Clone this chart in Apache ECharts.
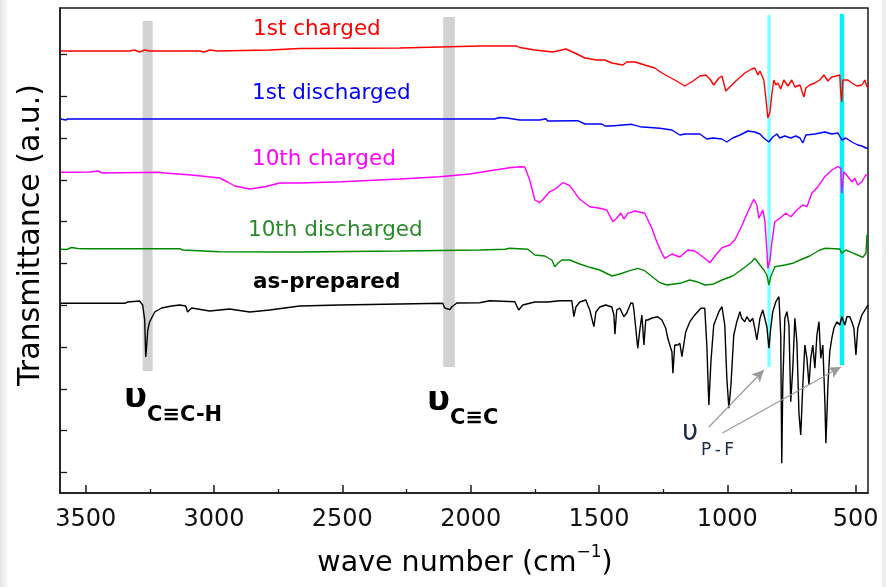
<!DOCTYPE html>
<html>
<head>
<meta charset="utf-8">
<script src="https://cdn.jsdelivr.net/npm/echarts@6/dist/echarts.min.js"></script>
<style>
  html, body { margin: 0; padding: 0; background: #fff; }
  #chart { width: 886px; height: 587px; }
</style>
</head>
<body>
<div id="chart"></div>
<script>
// FTIR spectra, wavenumber (cm-1) vs. offset transmittance (a.u.)
const wavenumberTicks = [3500, 3000, 2500, 2000, 1500, 1000, 500];
const wavenumberMinorTicks = [3250, 2750, 2250, 1750, 1250, 750];
const transmittanceTicks = [20.5, 62.3, 104.1, 145.9, 187.7, 229.5, 271.3, 313.1, 354.9, 396.7, 438.5];

const seriesNames = ['1st charged', '1st discharged', '10th charged', '10th discharged', 'as-prepared'];

const firstCharged = [[3597,442],[3329,442],[3309,443],[3290,441],[3270,443],[3251,442],[3056,442],[3037,441],[3017,443],[2986,442],[2783,443],[2666,444.5],[2276,445],[2120,446],[1965,447],[1820,447],[1809,445.5],[1750,443],[1680,441],[1629,444],[1594,440],[1555,435],[1509,433],[1477,433],[1450,430],[1407,428],[1392,431],[1360,431],[1322,428],[1283,425],[1255,420],[1205,413],[1185,410],[1166,407],[1134,412],[1107,417],[1084,418],[1068,414],[1053,408],[1033,415],[1021,417],[1006,402],[971,411],[932,420],[905,424],[893,425],[881,418],[873,422],[866,423],[858,413],[850,395],[842,375],[834,381],[827,398],[819,413],[811,408],[803,410],[792,404],[780,413],[764,407],[749,413],[737,406],[717,408],[702,396],[694,405],[679,408],[659,410],[640,413],[624,418],[608,412],[593,416],[577,417],[562,418],[558,400],[554,391],[550,413],[530,413],[515,410],[495,407],[476,408],[464,413],[456,406],[452,408]];

const firstDischarged = [[3597,374],[3590,375],[3578,373],[3570,374],[2666,374],[1906,374],[1887,375.5],[1859,375],[1809,373],[1731,373],[1707,374.3],[1700,372],[1583,372.3],[1555,369],[1489,369],[1477,367],[1454,367],[1450,368],[1372,368.7],[1341,366.3],[1263,364.7],[1216,363],[1185,358],[1166,359],[1107,359],[1080,354],[1057,355],[1021,354],[1002,351],[979,355],[951,358],[920,362],[893,361],[873,359],[858,355],[838,351],[823,356],[807,359],[796,355],[776,357],[753,355],[733,357],[717,355],[706,350],[694,358],[659,359],[620,361],[593,359],[569,360],[554,353],[538,355],[515,351],[492,348],[476,347],[460,345],[452,345]];

const tenthCharged = [[3597,320.7],[3484,321],[3453,322],[3434,320],[3212,320.7],[3192,320],[3087,318],[2978,315],[2947,311],[2919,307],[2861,304],[2802,306.3],[2744,310],[2666,310],[2502,311.3],[2276,314],[2120,316.3],[2004,319],[1906,323],[1848,325.3],[1809,326.3],[1789,326],[1770,313],[1758,301],[1750,293],[1731,290.3],[1711,295.7],[1692,301.3],[1672,303.7],[1641,310.3],[1614,307.3],[1575,293.7],[1536,286.3],[1497,284.7],[1470,283],[1446,271.3],[1431,274.7],[1415,280],[1403,274],[1388,279.7],[1360,282],[1322,279.7],[1294,264.7],[1275,251.3],[1255,239.7],[1244,234.7],[1216,239],[1185,236],[1154,243],[1127,242],[1088,234.7],[1068,230.3],[1045,238],[1021,245.3],[990,248],[971,253],[944,267],[920,281.3],[897,293.7],[885,288],[877,274.7],[862,283],[854,273],[846,243],[842,224.7],[834,233],[827,249.7],[815,271.3],[796,274.7],[772,279.7],[753,276.3],[729,283],[706,288],[690,286.3],[671,299.7],[647,306.3],[620,316.3],[593,323],[569,326.3],[558,324.7],[554,299.7],[546,321.3],[530,316.3],[515,311.3],[503,314.7],[492,308],[476,311.3],[460,318],[452,318]];

const tenthDischarged = [[3597,243.7],[3590,245],[3574,243.5],[3555,245.5],[3531,244.5],[3504,244.3],[3134,244.3],[3122,243],[2978,241.3],[2666,241],[2276,242],[1965,243],[1867,243.7],[1848,244.7],[1777,243.7],[1750,238],[1711,237],[1684,233],[1672,226.3],[1661,229.7],[1645,233],[1614,233],[1575,229],[1536,225.7],[1497,223],[1450,217],[1419,219],[1380,222.3],[1349,224.7],[1322,222.3],[1290,215.7],[1263,210.3],[1236,208],[1185,209.7],[1146,213],[1119,211.3],[1088,208],[1057,208.7],[1021,213],[979,217],[932,225.7],[905,231.3],[893,234.7],[873,228],[858,223],[846,218],[838,208],[831,216.3],[815,226.3],[776,228],[745,229.7],[717,233],[679,237],[640,243],[620,244.7],[562,244],[554,239.7],[538,243],[515,240.3],[492,238],[472,235.7],[460,239.7],[456,258],[452,258]];

const asPrepared = [[3597,189.7],[3348,189.7],[3336,191],[3290,192],[3278,188],[3270,173],[3266,136],[3262,148],[3258,163],[3251,171],[3231,181],[3204,185],[3165,187],[3134,188],[3110,187],[3103,181],[3087,185],[3017,182],[2939,184],[2861,181],[2783,183],[2666,187],[2510,188],[2276,189],[2109,189.7],[2101,185],[2081,183.3],[2074,186],[2054,190],[1965,190.3],[1926,192.3],[1828,191.3],[1813,183],[1797,188],[1750,191],[1700,191],[1653,192.3],[1606,192.3],[1598,176.3],[1590,186],[1575,191],[1551,193],[1544,188],[1536,183],[1528,174.7],[1520,166.3],[1512,181],[1497,186],[1474,188],[1450,186],[1442,178],[1438,158.7],[1431,183],[1419,185],[1403,176.3],[1392,180],[1376,190],[1368,189.7],[1364,183],[1357,183],[1349,144.7],[1341,163],[1333,178],[1325,148],[1318,173],[1310,173],[1294,175],[1271,176.3],[1255,173],[1240,164.7],[1232,154.7],[1216,141.3],[1212,119.7],[1205,148],[1193,148],[1185,149.7],[1177,136.3],[1173,143],[1162,161.3],[1146,171.3],[1127,178],[1103,184.7],[1088,184.7],[1080,148],[1072,88],[1064,131.3],[1053,168],[1033,181.3],[1021,186.3],[1010,168],[1002,114.7],[994,84.7],[986,108],[975,158],[963,171.3],[951,181.3],[944,174.7],[932,171.3],[924,176.3],[912,171.3],[901,174.7],[893,164.7],[885,153],[873,174.7],[862,183],[854,174.7],[846,166.3],[838,144.7],[831,164.7],[823,181.3],[811,191.3],[799,196.3],[792,158],[788,29.7],[784,108],[776,174.7],[768,181.3],[760,168],[753,91.3],[745,124.7],[737,174.7],[729,151.3],[721,79.7],[714,58],[706,108],[698,148],[690,134.7],[682,108],[675,134.7],[667,148],[659,124.7],[651,158],[643,171.3],[636,134.7],[628,148],[620,91.3],[616,49.7],[608,108],[601,141.3],[593,154.7],[585,164.7],[573,171.3],[562,168],[554,176.3],[542,168],[534,176.3],[523,176.3],[515,171.3],[507,164.7],[499,138],[492,164.7],[476,178],[460,184.7],[452,188]];

// Highlighted vibration bands: [from, to] wavenumber and vertical extent
const bandRanges = [[3278, 3239], [2107, 2062], [844, 831], [562, 545]];
const bandExtents = [[122, 472], [126, 476], [126, 478], [128, 479]];
const bandColors = ['#d2d2d2', '#d2d2d2', '#80ffff', '#00f4f4'];

// P-F assignment arrows: start and end points in (wavenumber, a.u.)
const arrowStarts = [[1072, 66], [1019, 60]];
const arrowEnds = [[858, 123], [558, 126]];

const lineColors = ['#ff0000', '#0000ff', '#ff00ff', '#008800', '#000000'];
const labelColors = ['#ff0000', '#0000ff', '#ff00ff', '#2a8a2a', '#000000'];
const spectra = [firstCharged, firstDischarged, tenthCharged, tenthDischarged, asPrepared];

const FONT = '"DejaVu Sans", "Liberation Sans", Arial, sans-serif';

const chart = echarts.init(document.getElementById('chart'), null, { renderer: 'canvas' });

const lineSeries = spectra.map((d, i) => ({
  name: seriesNames[i],
  type: 'line',
  data: d,
  showSymbol: false,
  symbol: 'none',
  animation: false,
  z: 3,
  lineStyle: { color: lineColors[i], width: 1.4 },
  emphasis: { disabled: true }
}));

const bandSeries = {
  type: 'line',
  data: [],
  z: 1,
  silent: true,
  animation: false,
  markArea: {
    silent: true,
    data: bandRanges.map((r, i) => [
      { coord: [r[0], bandExtents[i][1]], itemStyle: { color: bandColors[i], opacity: 1 } },
      { coord: [r[1], bandExtents[i][0]] }
    ])
  }
};

const arrowSeries = {
  type: 'line',
  data: [],
  z: 4,
  silent: true,
  animation: false,
  markLine: {
    silent: true,
    symbol: ['none', 'arrow'],
    symbolSize: [9, 12],
    label: { show: false },
    lineStyle: { color: '#9a9a9a', width: 1.2, type: 'solid' },
    data: arrowStarts.map((s, i) => [{ coord: s }, { coord: arrowEnds[i] }])
  }
};

const labelPos = [[253, 29], [252, 93], [252, 159], [248, 230], [253, 282]];

const txt = (x, y, text, size, color, weight) => ({
  type: 'text', x: x, y: y, silent: true, z: 50,
  style: {
    text: text, fill: color,
    font: (weight || 'normal') + ' ' + size + 'px ' + FONT,
    align: 'left', textAlign: 'left',
    verticalAlign: 'middle', textVerticalAlign: 'middle'
  }
});

const graphics = [
  { type: 'rect', shape: { x: 0, y: 0, width: 8, height: 587 }, silent: true, z: -1,
    style: { fill: new echarts.graphic.LinearGradient(0, 0, 1, 0, [{ offset: 0, color: '#e2e2e2' }, { offset: 1, color: '#fbfbfb' }]) } },
  { type: 'rect', shape: { x: 882, y: 0, width: 4, height: 587 }, silent: true, z: -1,
    style: { fill: '#eeeeee' } },
  {
    type: 'text', x: 31, y: 235, rotation: Math.PI / 2, silent: true, z: 50,
    style: { text: 'Transmittance (a.u.)', fill: '#000', font: '30px ' + FONT,
      align: 'center', textAlign: 'center', verticalAlign: 'middle', textVerticalAlign: 'middle' }
  },
  {
    type: 'text', x: 465, y: 561, silent: true, z: 50,
    style: {
      text: '{t|wave number (cm}{s|\u22121}{t|)}',
      align: 'center', textAlign: 'center', verticalAlign: 'middle', textVerticalAlign: 'middle',
      rich: {
        t: { fontSize: 28.5, fontFamily: FONT, fill: '#000', color: '#000', lineHeight: 34, verticalAlign: 'bottom' },
        s: { fontSize: 17, fontFamily: FONT, fill: '#000', color: '#000', lineHeight: 34, verticalAlign: 'top', padding: [0, 0, 0, 0] }
      }
    }
  },
  txt(124, 398, '\u03C5', 34, '#000', 'bold'),
  txt(147, 416, 'C\u2261C-H', 21, '#000', 'bold'),
  txt(427, 401, '\u03C5', 34, '#000', 'bold'),
  txt(450, 419, 'C\u2261C', 21, '#000', 'bold'),
  txt(682, 433, '\u03C5', 28, '#1d2a48'),
  txt(701, 451, 'P\u2009-\u2009F', 17, '#1d2a48')
];
seriesNames.forEach((n, i) => {
  graphics.push(txt(labelPos[i][0], labelPos[i][1], n, 21.5, labelColors[i], i === 4 ? 'bold' : 'normal'));
});

const option = {
  backgroundColor: '#ffffff',
  animation: false,
  grid: {
    left: 60, right: 18, top: 8, bottom: 94,
    show: true, borderColor: '#1a1a1a', borderWidth: 1.5, backgroundColor: 'transparent'
  },
  xAxis: [
    {
      type: 'value', inverse: true, min: 452, max: 3600,
      axisLine: { show: true, lineStyle: { color: '#1a1a1a', width: 1.5 } },
      axisTick: { show: true, inside: true, length: 8, customValues: wavenumberTicks,
        lineStyle: { color: '#1a1a1a', width: 1.5 } },
      axisLabel: { show: true, customValues: wavenumberTicks, margin: 15,
        formatter: (v) => String(v),
        color: '#111', fontSize: 24, fontFamily: FONT },
      splitLine: { show: false }
    },
    {
      type: 'value', inverse: true, min: 452, max: 3600, position: 'bottom',
      axisLine: { show: false },
      axisTick: { show: true, inside: true, length: 4, customValues: wavenumberMinorTicks,
        lineStyle: { color: '#1a1a1a', width: 1.3 } },
      axisLabel: { show: false },
      splitLine: { show: false }
    }
  ],
  yAxis: {
    type: 'value', min: 0, max: 485,
    axisLine: { show: true, lineStyle: { color: '#1a1a1a', width: 1.5 } },
    axisTick: { show: true, inside: true, length: 7, customValues: transmittanceTicks,
      lineStyle: { color: '#1a1a1a', width: 1.3 } },
    axisLabel: { show: false },
    splitLine: { show: false }
  },
  series: [bandSeries].concat(lineSeries).concat([arrowSeries]),
  graphic: graphics
};

chart.setOption(option);
</script>
</body>
</html>
